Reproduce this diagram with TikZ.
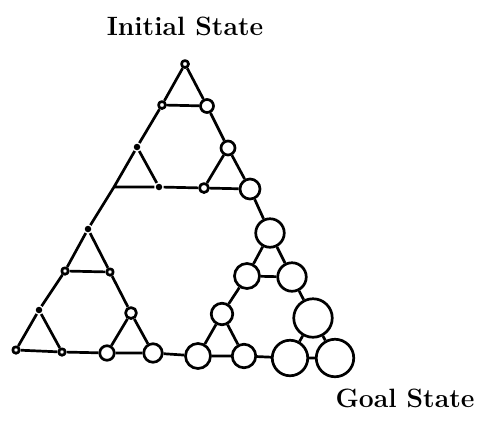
\documentclass[tikz,border=0pt]{standalone}
\begin{document}
\begin{tikzpicture}[x=1pt,y=-1pt,
  line width=2.7pt, line join=round,
  st/.style={circle,draw,fill=white,inner sep=0pt,minimum size=#1},
  dot/.style={circle,fill=black,inner sep=0pt,minimum size=6.5pt},
  lab/.style={font=\fontsize{26.5}{30}\selectfont\bfseries,anchor=base,inner sep=0pt}]
\useasboundingbox (0,0) rectangle (484,421);
% top big triangle
\node[st=7pt] (a1) at (185,64) {};
\node[st=7pt] (a2) at (162,105) {};
\node[st=13pt] (a3) at (207,106) {};
\node[dot] (b1) at (137,147) {};
\coordinate (b2) at (114,187);
\node[dot] (b3) at (159,187) {};
\node[st=14pt] (c1) at (228,148) {};
\node[st=9pt] (c2) at (204,188) {};
\node[st=20pt] (c3) at (250,189) {};
% left big triangle
\node[dot] (d1) at (88,229) {};
\node[st=6.5pt] (d2) at (65,271) {};
\node[st=6.5pt] (d3) at (110,272) {};
\node[dot] (e1) at (39,310) {};
\node[st=6.5pt] (e2) at (16,350) {};
\node[st=6.5pt] (e3) at (62,352) {};
\node[st=11pt] (f1) at (131,313) {};
\node[st=14.5pt] (f2) at (107,353) {};
\node[st=18.5pt] (f3) at (153,353) {};
% right big triangle
\node[st=28.5pt] (g1) at (270,233) {};
\node[st=25pt] (g2) at (247,276) {};
\node[st=28.5pt] (g3) at (292,277) {};
\node[st=21.5pt] (h1) at (222,314) {};
\node[st=25pt] (h2) at (198,356) {};
\node[st=23.5pt] (h3) at (244,356) {};
\node[st=38.5pt] (k1) at (313,318) {};
\node[st=35.5pt] (k2) at (290,358) {};
\node[st=37.5pt] (k3) at (335,358) {};
% edges
\draw (a1) -- (a2) (a2) -- (a3) (a3) -- (a1)
      (b1) -- (b2) (b2) -- (b3) (b3) -- (b1)
      (c1) -- (c2) (c2) -- (c3) (c3) -- (c1)
      (a2) -- (b1) (a3) -- (c1) (b3) -- (c2)
      (d1) -- (d2) (d2) -- (d3) (d3) -- (d1)
      (e1) -- (e2) (e2) -- (e3) (e3) -- (e1)
      (f1) -- (f2) (f2) -- (f3) (f3) -- (f1)
      (d2) -- (e1) (d3) -- (f1) (e3) -- (f2)
      (g1) -- (g2) (g2) -- (g3) (g3) -- (g1)
      (h1) -- (h2) (h2) -- (h3) (h3) -- (h1)
      (k1) -- (k2) (k2) -- (k3) (k3) -- (k1)
      (g2) -- (h1) (g3) -- (k1) (h3) -- (k2)
      (b2) -- (d1) (c3) -- (g1) (f3) -- (h2);
% labels
\node[lab] (init) at (185,35) {Initial State};
\node[lab] (goal) at (405,407) {Goal State};
\end{tikzpicture}
\end{document}
